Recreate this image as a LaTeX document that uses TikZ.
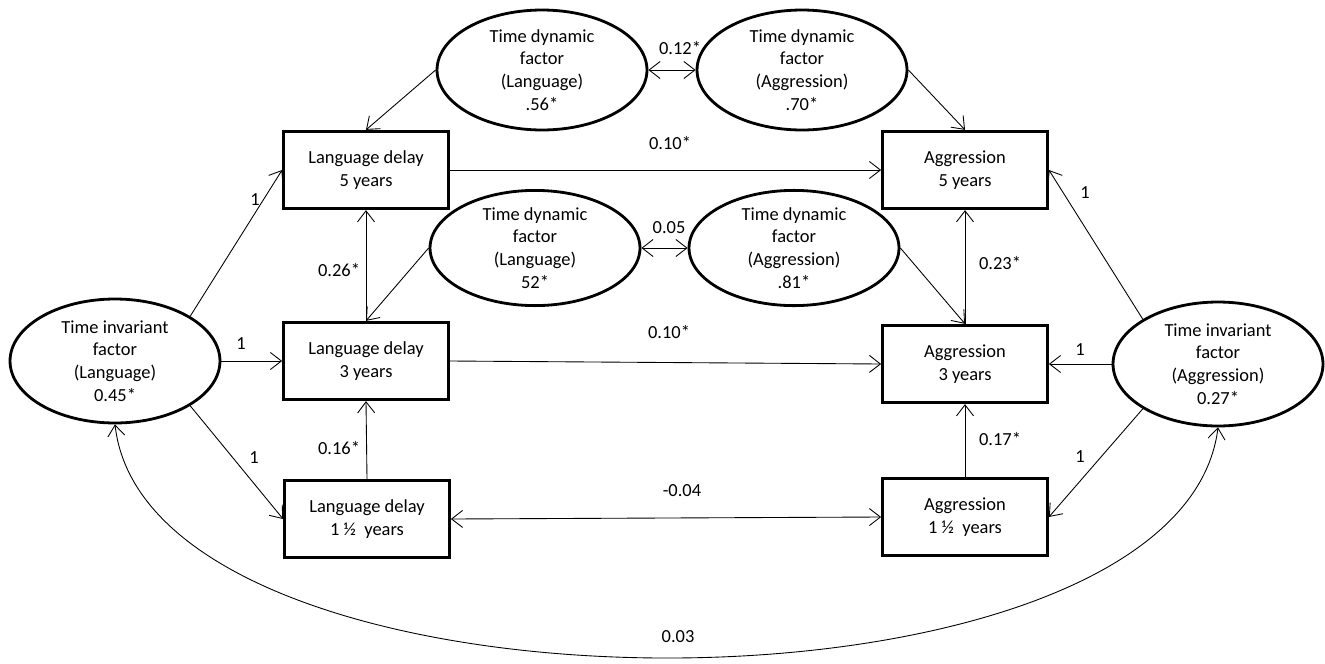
\documentclass[tikz,border=0pt]{standalone}
\usepackage{fontspec}
\setmainfont{Carlito}
\usetikzlibrary{shapes.geometric,arrows.meta}

\begin{document}
\begin{tikzpicture}[x=0.02cm,y=-0.02cm,
  font=\fontsize{10.5}{13}\selectfont,
  latent/.style={draw, ellipse, line width=1.6pt, inner sep=0pt, minimum width=4.2cm, align=center},
  observed/.style={draw, rectangle, line width=1.6pt, minimum width=3.3cm, minimum height=1.55cm, align=center},
  arrowline/.style={-{Straight Barb[length=2.2mm,width=3.4mm]}, line width=0.5pt},
  cov/.style={{Straight Barb[length=2.2mm,width=3.4mm]}-{Straight Barb[length=2.2mm,width=3.4mm]}, line width=0.5pt},
  coef/.style={inner sep=1pt}]
\useasboundingbox (0,0) rectangle (1325,663);

% Time dynamic factors
\node[latent, minimum height=2.4cm] (tdL1) at (542,70) {Time dynamic\\factor\\(Language)\\.56*};
\node[latent, minimum height=2.4cm] (tdA1) at (802,70) {Time dynamic\\factor\\(Aggression)\\.70*};
\node[latent, minimum height=2.2cm] (tdL2) at (535,248) {Time dynamic\\factor\\(Language)\\52*};
\node[latent, minimum height=2.2cm] (tdA2) at (794,248) {Time dynamic\\factor\\(Aggression)\\.81*};

% Time invariant factors
\node[latent, minimum height=2.48cm] (tiL) at (115,361) {Time invariant\\factor\\(Language)\\0.45*};
\node[latent, minimum height=2.48cm] (tiA) at (1218,364) {Time invariant\\factor\\(Aggression)\\0.27*};

% Observed measures
\node[observed] (lang5) at (366,170) {Language delay\\5 years};
\node[observed] (lang3) at (366,361) {Language delay\\3 years};
\node[observed] (lang1) at (367,519) {Language delay\\1 ½~ years};
\node[observed] (aggr5) at (965,170) {Aggression\\5 years};
\node[observed] (aggr3) at (965,364) {Aggression\\3 years};
\node[observed] (aggr1) at (965,517) {Aggression\\1 ½~ years};

% Covariances
\draw[cov] (tdL1.east) -- (tdA1.west);
\draw[cov] (tdL2.east) -- (tdA2.west);
\draw[cov] (lang1.east) -- (aggr1.west);
\draw[cov] (tiL.south) .. controls (150,735) and (1180,735) .. (tiA.south);

% Loadings
\draw[arrowline] (tdL1.west) -- (lang5.north);
\draw[arrowline] (tdA1.east) -- (aggr5.north);
\draw[arrowline] (tdL2.west) -- (lang3.north);
\draw[arrowline] (tdA2.east) -- (aggr3.north);
\draw[arrowline] (tiL.north east) -- (lang5.west);
\draw[arrowline] (tiL.east) -- (lang3.west);
\draw[arrowline] (tiL.south east) -- (lang1.west);
\draw[arrowline] (tiA.north west) -- (aggr5.east);
\draw[arrowline] (tiA.west) -- (aggr3.east);
\draw[arrowline] (tiA.south west) -- (aggr1.east);

% Regressions
\draw[arrowline] (lang3.north) -- (lang5.south);
\draw[arrowline] (lang1.north) -- (lang3.south);
\draw[arrowline] (aggr3.north) -- (aggr5.south);
\draw[arrowline] (aggr1.north) -- (aggr3.south);
\draw[arrowline] (lang5.east) -- (aggr5.west);
\draw[arrowline] (lang3.east) -- (aggr3.west);

% Coefficients
\node[coef] (c12) at (680,48) {0.12*};
\node[coef] (c10a) at (670,143) {0.10*};
\node[coef] (c05) at (669,228) {0.05};
\node[coef] (c10b) at (669,332) {0.10*};
\node[coef] (c26) at (339,270) {0.26*};
\node[coef] (c16) at (339,448) {0.16*};
\node[coef] (c23) at (1000,263) {0.23*};
\node[coef] (c17) at (1000,439) {0.17*};
\node[coef] (c04) at (682,491) {-0.04};
\node[coef] (c03) at (678,637) {0.03};
\node[coef] (l1a) at (255,200) {1};
\node[coef] (l1b) at (241,344) {1};
\node[coef] (l1c) at (254,458) {1};
\node[coef] (l2a) at (1085,193) {1};
\node[coef] (l2b) at (1080,350) {1};
\node[coef] (l2c) at (1080,457) {1};
\end{tikzpicture}
\end{document}
